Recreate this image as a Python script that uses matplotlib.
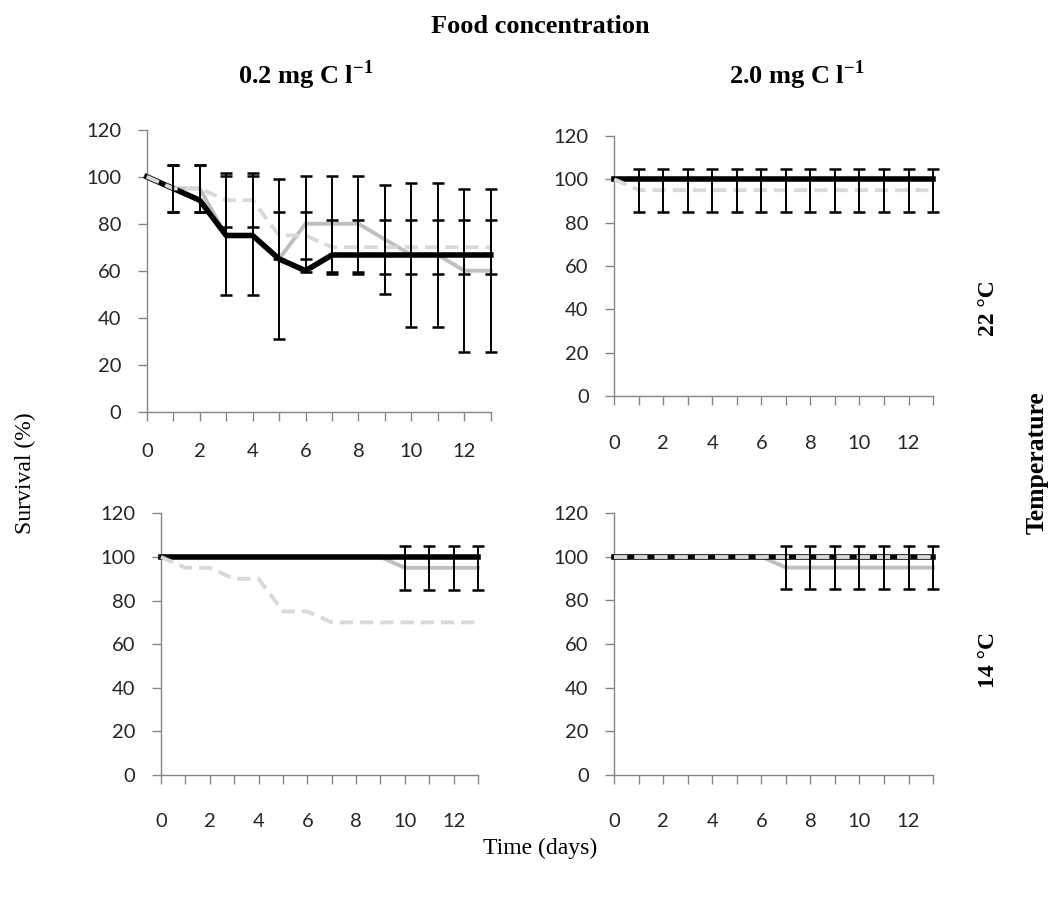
import numpy as np
import matplotlib
matplotlib.use('Agg')
import matplotlib.pyplot as plt

days = list(range(14))

# 22 °C, 0.2 mg C l-1
tl_black = [100, 95, 90, 75, 75, 65, 60, 66.7, 66.7, 66.7, 66.7, 66.7, 66.7, 66.7]
tl_gray = [100, 95, 95, 75, 75, 65, 80, 80, 80, 73.3, 66.7, 66.7, 60, 60]
tl_gray_err = [0, 10, 10, 25.3, 25.3, 34, 20.4, 20.4, 20.4, 23.3, 30.8, 30.8, 34.6, 34.6]
tl_dash = [100, 95, 95, 90, 90, 75, 75, 70, 70, 70, 70, 70, 70, 70]
tl_dash_err = [0, 10, 10, 11.6, 11.6, 10, 10, 11.6, 11.6, 11.6, 11.6, 11.6, 11.6, 11.6]

# 22 °C, 2.0 mg C l-1
tr_black = [100] * 14
tr_gray = [100] * 14
tr_gray_err = [0] * 14
tr_dash = [100] + [95] * 13
tr_dash_err = [0] + [10] * 13

# 14 °C, 0.2 mg C l-1
bl_black = [100] * 14
bl_gray = [100] * 10 + [95] * 4
bl_gray_err = [0] * 10 + [10] * 4
bl_dash = [100, 95, 95, 90, 90, 75, 75, 70, 70, 70, 70, 70, 70, 70]
bl_dash_err = [0] * 14

# 14 °C, 2.0 mg C l-1
br_black = [100] * 14
br_gray = [100] * 7 + [95] * 7
br_gray_err = [0] * 7 + [10] * 7
br_dash = [100] * 14
br_dash_err = [0] * 14

y_ticks = [0, 20, 40, 60, 80, 100, 120]
x_labels = ['0', '', '2', '', '4', '', '6', '', '8', '', '10', '', '12', '']

AXIS_GRAY = '#868686'
MID_GRAY = '#bfbfbf'
LIGHT_GRAY = '#d9d9d9'
SERIF = ['Liberation Serif', 'DejaVu Serif']

plt.rcParams['font.family'] = ['Lato', 'DejaVu Sans']


def add_errors(ax, values, errors):
    x = np.array(days)
    v = np.array(values, dtype=float)
    e = np.array(errors, dtype=float)
    keep = e > 0
    if keep.any():
        ax.errorbar(x[keep], v[keep], yerr=e[keep], fmt='none', ecolor='black',
                    elinewidth=1.4, capsize=4.3, capthick=1.8, zorder=5, clip_on=False)


def draw_panel(ax, black, gray, gray_err, dashed, dashed_err, xpad):
    ax.plot(days, gray, color=MID_GRAY, lw=2.8, zorder=2, clip_on=False)
    ax.plot(days, black, color='black', lw=4.0, zorder=3, clip_on=False)
    ax.plot(days, dashed, color=LIGHT_GRAY, lw=2.8, dashes=(3.4, 1.8), zorder=4, clip_on=False)
    add_errors(ax, gray, gray_err)
    add_errors(ax, dashed, dashed_err)

    ax.set_xlim(0, 13)
    ax.set_ylim(0, 120)
    ax.set_xticks(days)
    ax.set_xticklabels(x_labels)
    ax.set_yticks(y_ticks)
    for side in ['top', 'right']:
        ax.spines[side].set_visible(False)
    for side in ['left', 'bottom']:
        ax.spines[side].set_color(AXIS_GRAY)
        ax.spines[side].set_linewidth(1.0)
    ax.tick_params(axis='both', direction='out', length=6.5, width=1.0,
                   color=AXIS_GRAY, labelsize=14.5, labelcolor='#262626')
    ax.tick_params(axis='x', pad=xpad)
    ax.tick_params(axis='y', pad=12)


fig = plt.figure(figsize=(10.55, 8.99), dpi=100)

ax_tl = fig.add_axes([0.1391, 0.5420, 0.3261, 0.3137])
ax_tr = fig.add_axes([0.5823, 0.5595, 0.3021, 0.2892])
ax_bl = fig.add_axes([0.1526, 0.1379, 0.3005, 0.2911])
ax_br = fig.add_axes([0.5823, 0.1379, 0.3021, 0.2914])

draw_panel(ax_tl, tl_black, tl_gray, tl_gray_err, tl_dash, tl_dash_err, 16)
draw_panel(ax_tr, tr_black, tr_gray, tr_gray_err, tr_dash, tr_dash_err, 21.5)
draw_panel(ax_bl, bl_black, bl_gray, bl_gray_err, bl_dash, bl_dash_err, 21)
draw_panel(ax_br, br_black, br_gray, br_gray_err, br_dash, br_dash_err, 21)

# headings and axis titles
fig.text(0.5118, 0.970, 'Food concentration', family=SERIF, weight='bold',
         fontsize=19, ha='center', va='center')
fig.text(0.290, 0.9166, r'0.2 mg C l$^{\mathregular{-1}}$', family=SERIF, weight='bold',
         fontsize=19, ha='center', va='center')
fig.text(0.7555, 0.9166, r'2.0 mg C l$^{\mathregular{-1}}$', family=SERIF, weight='bold',
         fontsize=19, ha='center', va='center')
fig.text(0.0237, 0.474, 'Survival (%)', family=SERIF, fontsize=17,
         rotation=90, ha='center', va='center')
fig.text(0.5118, 0.056, 'Time (days)', family=SERIF, fontsize=17,
         ha='center', va='center')
fig.text(0.9365, 0.6574, '22 °C', family=SERIF, weight='bold', fontsize=17,
         rotation=90, ha='center', va='center')
fig.text(0.9365, 0.266, '14 °C', family=SERIF, weight='bold', fontsize=17,
         rotation=90, ha='center', va='center')
fig.text(0.983, 0.485, 'Temperature', family=SERIF, weight='bold', fontsize=18.5,
         rotation=90, ha='center', va='center')

fig.savefig('out.png', dpi=100)
